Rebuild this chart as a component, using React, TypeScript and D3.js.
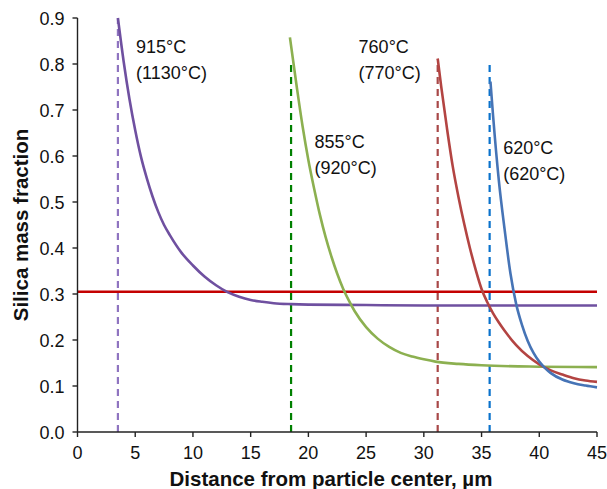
import React from 'react';
import * as d3 from 'd3';

// curves: [distance um, silica mass fraction]
const purpleCurve: [number, number][] = [
  [3.5, 0.9], [4, 0.805], [4.5, 0.724], [5, 0.656], [5.5, 0.598], [6, 0.552], [6.5, 0.512],
  [7, 0.478], [7.5, 0.45], [8, 0.428], [9, 0.39], [10, 0.362], [11, 0.338], [12, 0.319],
  [13, 0.304], [14, 0.294], [15, 0.287], [16, 0.283], [17, 0.28], [18.5, 0.278], [20, 0.277],
  [25, 0.276], [30, 0.275], [45, 0.275],
];
const greenCurve: [number, number][] = [
  [18.4, 0.858], [19, 0.749], [19.5, 0.664], [20, 0.591], [20.5, 0.529], [21, 0.472],
  [21.5, 0.423], [22, 0.381], [22.5, 0.344], [23, 0.312], [23.5, 0.286], [24, 0.263],
  [25, 0.228], [26, 0.203], [27, 0.185], [28, 0.172], [29, 0.164], [30, 0.158], [31, 0.153],
  [33, 0.148], [35, 0.145], [40, 0.142], [45, 0.141],
];
const redCurve: [number, number][] = [
  [31.2, 0.812], [31.5, 0.752], [32, 0.661], [32.5, 0.578], [33, 0.511], [33.5, 0.452],
  [34, 0.399], [34.5, 0.352], [35, 0.311], [35.5, 0.282], [36, 0.258], [36.5, 0.238],
  [37, 0.22], [38, 0.189], [39, 0.165], [40, 0.147], [41, 0.134], [42, 0.125], [43, 0.117],
  [44, 0.112], [45, 0.109],
];
const blueCurve: [number, number][] = [
  [35.77, 0.762], [36, 0.687], [36.5, 0.546], [37, 0.44], [37.5, 0.345], [38, 0.278],
  [38.5, 0.233], [39, 0.198], [39.5, 0.172], [40, 0.153], [40.5, 0.139], [41, 0.128],
  [42, 0.114], [43, 0.106], [44, 0.101], [45, 0.097],
];

const curveColors = ['#6f50a0', '#8cb050', '#b34442', '#4674b6'];
const dashColors = ['#8f74c0', '#008000', '#a84848', '#0a72cc'];

// dashed markers: position and top
const markerX = [3.5, 18.5, 31.2, 35.7];
const markerTop = [0.9, 0.8, 0.81, 0.8];

const thresholdY = 0.305;

const labelLines = [
  ['915°C', '(1130°C)'],
  ['855°C', '(920°C)'],
  ['760°C', '(770°C)'],
  ['620°C', '(620°C)'],
];
const labelAt: [number, number][] = [[5.07, 0.8245], [20.53, 0.617], [24.35, 0.824], [36.87, 0.604]];

const xTicks = [0, 5, 10, 15, 20, 25, 30, 35, 40, 45];
const yTicks = [0, 0.1, 0.2, 0.3, 0.4, 0.5, 0.6, 0.7, 0.8, 0.9];

const W = 607;
const H = 489;
const margin = { left: 77.5, right: 10, top: 18, bottom: 57 };

export default function App() {
  const x = d3.scaleLinear().domain([0, 45]).range([margin.left, W - margin.right]);
  const y = d3.scaleLinear().domain([0, 0.9]).range([H - margin.bottom, margin.top]);

  const line = d3.line<[number, number]>()
    .x(d => x(d[0]))
    .y(d => y(d[1]))
    .curve(d3.curveMonotoneX);

  const curves = [purpleCurve, greenCurve, redCurve, blueCurve];
  const font = '"Liberation Sans", Arial, Helvetica, sans-serif';
  const y0 = y(0);

  return (
    <svg width={W} height={H} style={{ position: 'absolute', left: 0, top: 0 }} fontFamily={font}>
      {markerX.map((m, i) => (
        <line key={'m' + i} x1={x(m)} x2={x(m)} y1={y0} y2={y(markerTop[i])}
          stroke={dashColors[i]} strokeWidth={2.2} strokeDasharray="7,5" />
      ))}
      <line x1={x(0)} x2={x(45)} y1={y(thresholdY)} y2={y(thresholdY)} stroke="#c40000" strokeWidth={2.5} />
      {curves.map((c, i) => (
        <path key={'c' + i} d={line(c) || ''} fill="none" stroke={curveColors[i]} strokeWidth={2.6} />
      ))}

      {/* axes */}
      <line x1={x(0)} x2={x(45)} y1={y0} y2={y0} stroke="#222" strokeWidth={1.4} />
      <line x1={x(0)} x2={x(0)} y1={y0} y2={y(0.9)} stroke="#222" strokeWidth={1.4} />
      {xTicks.map(t => (
        <g key={'x' + t}>
          <line x1={x(t)} x2={x(t)} y1={y0} y2={y0 + 5} stroke="#222" strokeWidth={1.4} />
          <text x={x(t)} y={y0 + 27} textAnchor="middle" fontSize={18} fill="#111">{t}</text>
        </g>
      ))}
      {yTicks.map(t => (
        <g key={'y' + t}>
          <line x1={x(0) - 5} x2={x(0)} y1={y(t)} y2={y(t)} stroke="#222" strokeWidth={1.4} />
          <text x={x(0) - 13} y={y(t) + 6.5} textAnchor="end" fontSize={18} fill="#111">{t.toFixed(1)}</text>
        </g>
      ))}

      {labelLines.map((lines, i) => (
        <text key={'l' + i} fontSize={18} fill="#111">
          {lines.map((s, j) => (
            <tspan key={j} x={x(labelAt[i][0])} y={y(labelAt[i][1]) + j * 26}>{s}</tspan>
          ))}
        </text>
      ))}

      <text x={331} y={486} textAnchor="middle" fontSize={20.5} fontWeight="bold" fill="#111">
        Distance from particle center, µm
      </text>
      <text transform={`translate(28,${(y(0) + y(0.9)) / 2}) rotate(-90)`} textAnchor="middle"
        fontSize={20.5} fontWeight="bold" fill="#111">
        Silica mass fraction
      </text>
    </svg>
  );
}
